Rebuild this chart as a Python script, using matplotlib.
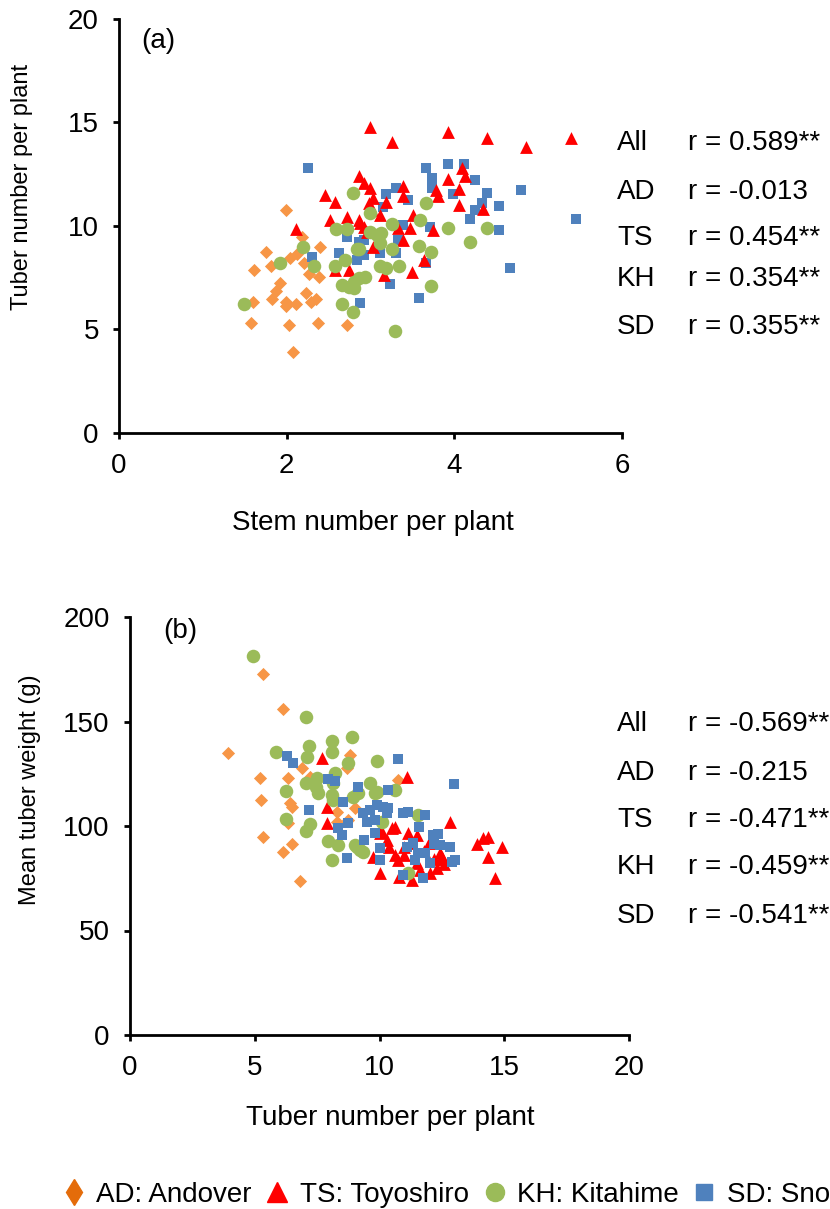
import matplotlib
matplotlib.use('Agg')
import matplotlib.pyplot as plt
from matplotlib.lines import Line2D

plt.rcParams['font.family'] = ['Liberation Sans', 'DejaVu Sans']

# ---- panel (a): stem number vs tuber number ----
a_ad_x = [1.99, 1.75, 1.61, 1.81, 2.18, 2.40, 2.04, 2.12, 2.21, 2.27, 2.39, 1.92, 1.87, 1.83, 1.60, 2.23,
          1.99, 2.11, 1.99, 2.29, 2.35, 1.58, 2.03, 2.37, 2.72, 2.07]
a_ad_y = [10.76, 8.76, 7.89, 8.08, 9.48, 8.97, 8.44, 8.65, 8.23, 7.70, 7.55, 7.25, 6.86, 6.47, 6.31, 6.78,
          6.34, 6.23, 6.15, 6.34, 6.46, 5.33, 5.20, 5.33, 5.20, 3.91]

a_ts_x = [2.11, 2.46, 2.58, 2.52, 2.72, 2.86, 2.92, 2.99, 2.99, 3.26, 3.92, 4.39, 4.86, 5.39, 4.09, 4.13,
          3.92, 4.06, 3.78, 3.80, 4.05, 4.34, 3.39, 3.39, 3.19, 3.03, 3.11, 3.51, 3.74, 3.47, 3.33, 3.39,
          3.03, 3.64, 3.49, 3.16, 2.88, 2.86, 2.92, 2.96, 2.58, 2.74, 3.02, 2.98]
a_ts_y = [9.84, 11.50, 11.15, 10.30, 10.43, 12.42, 12.06, 11.82, 14.80, 14.07, 14.52, 14.27, 13.80, 14.27,
          12.79, 12.42, 12.27, 11.79, 11.74, 11.45, 11.01, 10.82, 11.93, 11.45, 11.17, 11.34, 10.53, 10.53,
          9.81, 9.89, 9.89, 9.32, 9.00, 8.36, 7.79, 7.63, 10.13, 10.29, 9.97, 9.72, 7.87, 7.87, 10.77, 11.11]

a_kh_x = [1.49, 1.92, 2.19, 2.33, 2.58, 2.70, 2.59, 2.72, 2.79, 2.84, 2.66, 2.74, 2.80, 2.80, 2.86, 2.94,
          2.66, 2.79, 3.66, 2.99, 3.26, 3.59, 3.92, 4.39, 2.99, 3.08, 3.13, 3.11, 2.86, 3.26, 3.58, 3.72,
          4.19, 3.11, 3.19, 3.34, 3.72, 3.29]
a_kh_y = [6.23, 8.20, 9.00, 8.08, 8.08, 8.36, 9.86, 9.86, 11.59, 8.89, 7.15, 7.07, 7.31, 6.99, 7.47, 7.52,
          6.23, 5.83, 11.13, 10.61, 10.08, 10.29, 9.89, 9.89, 9.72, 9.57, 9.65, 9.16, 8.87, 8.87, 9.05, 8.73,
          9.21, 8.08, 7.99, 8.08, 7.10, 4.93]

a_sd_x = [2.26, 2.72, 2.63, 2.84, 2.30, 2.88, 2.92, 2.86, 3.66, 3.92, 4.12, 3.73, 3.73, 4.25, 4.39, 4.79,
          5.45, 4.53, 4.53, 4.19, 4.33, 4.25, 3.99, 4.66, 3.58, 3.23, 3.19, 3.31, 3.45, 3.15, 3.39, 3.71,
          3.33, 3.11, 2.92, 3.31, 3.66]
a_sd_y = [12.79, 9.48, 8.68, 8.36, 8.52, 6.28, 8.60, 9.24, 12.79, 12.99, 12.99, 12.30, 11.82, 12.22, 11.58,
          11.74, 10.32, 10.97, 9.81, 10.32, 11.10, 10.77, 11.53, 7.96, 6.51, 7.18, 11.53, 11.82, 11.26, 10.93,
          10.05, 9.97, 9.32, 8.68, 9.32, 8.71, 8.20]

# ---- panel (b): tuber number vs mean tuber weight ----
b_ad_x = [3.91, 5.21, 5.24, 5.34, 5.34, 6.15, 6.15, 6.35, 6.35, 6.41, 6.48, 6.48, 6.81, 6.88, 7.21, 8.28,
          8.68, 8.82, 8.75, 9.00, 10.75, 8.30]
b_ad_y = [134.8, 123.1, 112.4, 94.9, 172.6, 155.8, 87.7, 123.1, 101.3, 111.1, 109.2, 91.4, 73.7, 127.6,
          123.6, 106.8, 127.6, 134.0, 102.9, 108.5, 122.0, 102.0]

b_ts_x = [7.71, 7.88, 7.91, 10.02, 11.09, 12.83, 13.90, 10.62, 10.49, 11.15, 10.09, 10.62, 11.49, 12.42,
          10.75, 11.62, 12.02, 14.36, 14.16, 14.90, 14.36, 14.63, 12.49, 11.49, 10.02, 10.29, 9.75, 11.00,
          12.00, 12.50, 11.30, 10.80, 12.30, 11.80, 12.20, 10.40, 11.00, 12.60, 11.30]
b_ts_y = [132.4, 109.2, 101.6, 77.4, 123.3, 102.1, 91.4, 99.7, 98.9, 96.5, 97.3, 86.1, 95.7, 86.9, 83.7,
          78.9, 77.4, 94.9, 94.1, 89.8, 85.0, 75.0, 85.3, 82.1, 96.5, 93.3, 85.3, 90.0, 92.0, 84.0, 74.0,
          75.5, 80.0, 88.0, 84.0, 90.0, 86.0, 82.0, 92.0]

b_kh_x = [4.94, 7.04, 5.84, 7.17, 7.11, 8.11, 8.11, 8.91, 9.89, 8.75, 8.22, 6.24, 7.04, 7.48, 7.45, 7.55,
          6.24, 7.21, 7.04, 8.15, 8.08, 8.15, 8.95, 9.15, 9.62, 9.82, 10.09, 7.95, 8.35, 8.08, 9.09, 9.35,
          9.89, 10.62, 11.56, 9.22, 9.02, 11.15]
b_kh_y = [181.3, 152.0, 135.3, 138.3, 132.9, 140.7, 135.6, 142.7, 131.2, 130.0, 125.5, 116.9, 120.4, 122.8,
          118.8, 115.6, 103.3, 100.8, 97.6, 120.4, 114.8, 112.4, 114.0, 115.6, 120.4, 115.6, 102.1, 92.8,
          90.9, 83.7, 90.1, 87.7, 116.4, 117.2, 105.3, 88.5, 90.9, 77.4]

b_sd_x = [6.30, 6.52, 7.95, 8.22, 9.15, 7.19, 8.55, 10.35, 8.35, 8.75, 8.48, 8.68, 9.35, 9.62, 9.89, 10.15,
          10.29, 9.48, 9.82, 9.38, 9.82, 10.02, 10.02, 10.75, 13.00, 10.35, 10.95, 11.15, 11.82, 11.58, 12.36,
          12.83, 12.89, 13.03, 11.09, 11.36, 11.56, 11.82, 12.02, 11.42, 10.95, 12.16, 11.76, 12.42, 12.18]
b_sd_y = [133.5, 130.3, 122.3, 121.7, 118.8, 107.7, 111.6, 117.2, 98.9, 101.3, 95.7, 84.5, 106.1, 107.7,
          110.1, 109.2, 106.1, 102.1, 102.9, 93.3, 96.5, 89.3, 83.7, 131.9, 120.1, 108.5, 106.1, 106.6, 105.3,
          99.7, 96.2, 90.1, 82.9, 83.7, 90.1, 91.7, 86.9, 86.9, 82.1, 83.7, 76.6, 95.7, 75.0, 90.9, 91.4]

groups = ['All', 'AD', 'TS', 'KH', 'SD']
a_r = ['r = 0.589**', 'r = -0.013', 'r = 0.454**', 'r = 0.354**', 'r = 0.355**']
b_r = ['r = -0.569**', 'r = -0.215', 'r = -0.471**', 'r = -0.459**', 'r = -0.541**']

legend_labels = ['AD: Andover', 'TS: Toyoshiro', 'KH: Kitahime', 'SD: Snowden']

orange = '#F79646'
red = '#FF0000'
green = '#9BBB59'
blue = '#4F81BD'
fs = 20
fs_y = 17   # vertical labels look narrower in the original
W, H = 830, 1209

fig = plt.figure(figsize=(W / 100, H / 100), dpi=100)
ax1 = fig.add_axes([119 / W, 1 - 433 / H, 503 / W, 414 / H])
ax2 = fig.add_axes([130 / W, 1 - 1035 / H, 499 / W, 418 / H])


def style(ax):
    for s in ['top', 'right']:
        ax.spines[s].set_visible(False)
    for s in ['left', 'bottom']:
        ax.spines[s].set_linewidth(2.0)
    ax.tick_params(direction='out', length=4.5, width=2.0, labelsize=fs, pad=10)


# panel a
ax1.scatter(a_ad_x, a_ad_y, marker='D', s=45, color=orange, linewidths=0, zorder=2)
ax1.scatter(a_sd_x, a_sd_y, marker='s', s=62, color=blue, linewidths=0, zorder=3)
ax1.scatter(a_ts_x, a_ts_y, marker='^', s=85, color=red, linewidths=0, zorder=4)
ax1.scatter(a_kh_x, a_kh_y, marker='o', s=95, color=green, linewidths=0, zorder=5)
ax1.set_xlim(0, 6)
ax1.set_ylim(0, 20)
ax1.set_xticks([0, 2, 4, 6])
ax1.set_yticks([0, 5, 10, 15, 20])
style(ax1)
ax1.set_xlabel('Stem number per plant', fontsize=fs)
ax1.set_ylabel('Tuber number per plant', fontsize=fs_y)
ax1.xaxis.set_label_coords(0.505, -0.217)
ax1.xaxis.label.set_va('center')
ax1.yaxis.set_label_coords(-0.193, 0.594)
ax1.yaxis.label.set_va('center')

# panel b
ax2.scatter(b_ad_x, b_ad_y, marker='D', s=45, color=orange, linewidths=0, zorder=2)
ax2.scatter(b_ts_x, b_ts_y, marker='^', s=85, color=red, linewidths=0, zorder=3)
ax2.scatter(b_kh_x, b_kh_y, marker='o', s=95, color=green, linewidths=0, zorder=4)
ax2.scatter(b_sd_x, b_sd_y, marker='s', s=62, color=blue, linewidths=0, zorder=5)
ax2.set_xlim(0, 20)
ax2.set_ylim(0, 200)
ax2.set_xticks([0, 5, 10, 15, 20])
ax2.set_yticks([0, 50, 100, 150, 200])
style(ax2)
ax2.set_xlabel('Tuber number per plant', fontsize=fs)
ax2.set_ylabel('Mean tuber weight (g)', fontsize=fs_y)
ax2.xaxis.set_label_coords(0.521, -0.199)
ax2.xaxis.label.set_va('center')
ax2.yaxis.set_label_coords(-0.2, 0.586)
ax2.yaxis.label.set_va('center')

# panel letters
fig.text(141 / W, 1 - 48 / H, '(a)', fontsize=fs, va='baseline')
fig.text(163 / W, 1 - 638 / H, '(b)', fontsize=fs, va='baseline')

# correlation text
a_base = [150, 199, 245, 286, 334]
b_base = [731, 780, 827, 874, 923]
for g, r, yb in zip(groups, a_r, a_base):
    fig.text(617 / W, 1 - yb / H, g, fontsize=fs, va='baseline')
    fig.text(688 / W, 1 - yb / H, r, fontsize=fs, va='baseline')
for g, r, yb in zip(groups, b_r, b_base):
    fig.text(617 / W, 1 - yb / H, g, fontsize=fs, va='baseline')
    fig.text(688 / W, 1 - yb / H, r, fontsize=fs, va='baseline')

# legend at the bottom (runs off the right edge, like the original)
handles = [
    Line2D([], [], ls='none', marker='d', ms=13, color='#E46C0A'),
    Line2D([], [], ls='none', marker='^', ms=14, color=red),
    Line2D([], [], ls='none', marker='o', ms=13, color=green),
    Line2D([], [], ls='none', marker='s', ms=12, color=blue),
]
fig.legend(handles, legend_labels, loc='center left', bbox_to_anchor=(60 / W, 1 - 1195 / H),
           ncol=4, frameon=False, fontsize=fs, handlelength=1.0, handletextpad=0.31,
           columnspacing=0.42, borderaxespad=0, borderpad=0)

fig.savefig('out.png', dpi=100)
